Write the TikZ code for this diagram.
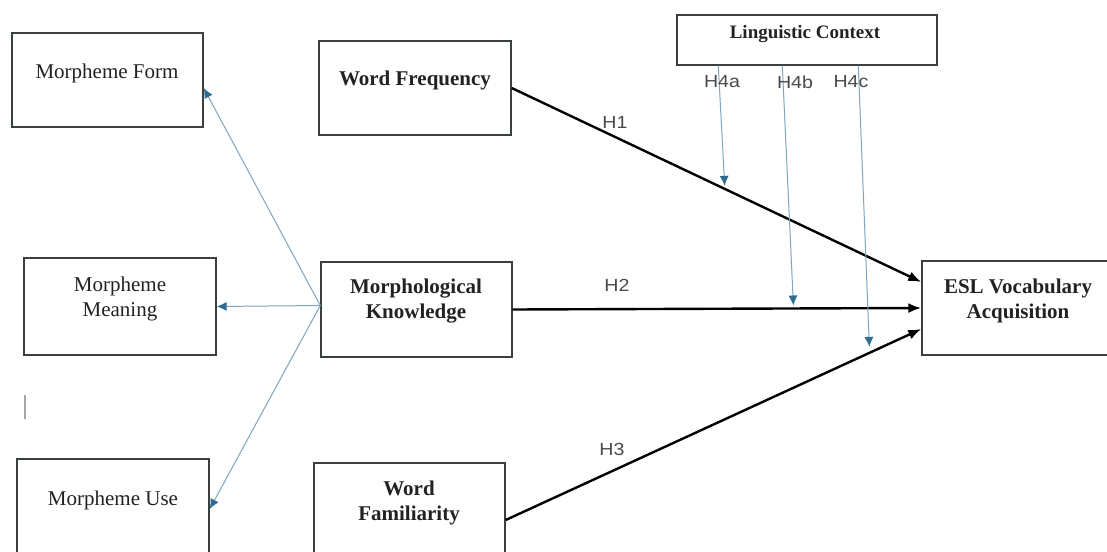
\documentclass[tikz,border=0pt]{standalone}
\usepackage{fontspec}
\setmainfont{Liberation Serif}
\newfontfamily\hfont{Liberation Sans}
\usetikzlibrary{arrows.meta,calc}
\definecolor{boxline}{HTML}{3A3F42}
\definecolor{modline}{HTML}{7FA5BF}
\definecolor{modtip}{HTML}{2E6C93}
\definecolor{txt}{HTML}{222222}
\definecolor{hlab}{HTML}{4A4A4A}
\tikzset{
  box/.style={draw=boxline, line width=1.4pt, rectangle, inner sep=0pt},
  lab/.style={font=\fontsize{21}{25}\selectfont, text=txt, align=center, inner sep=0pt},
  blab/.style={font=\fontsize{21}{25}\selectfont\bfseries, text=txt, align=center, inner sep=0pt},
  hl/.style={font=\hfont\fontsize{17.5}{20}\selectfont, text=hlab, inner sep=0pt},
  mainarrow/.style={line width=2.4pt, black, -{Latex[length=13pt,width=10pt]}},
  modarrow/.style={line width=1pt, modline, -{Latex[length=10pt,width=9pt,color=modtip]}},
}
\newcommand{\hstretch}[1]{\scalebox{1.12}[1]{#1}}
\begin{document}
\begin{tikzpicture}[x=1pt,y=-1pt]
\useasboundingbox[fill=white] (0,0) rectangle (1107,551);

% boxes
\node[box, minimum width=191pt, minimum height=94pt] (mf) at (107.5,80) {};
\node[lab] (mft) at (107,73) {Morpheme Form};

\node[box, minimum width=192pt, minimum height=94pt] (wf) at (415,88) {};
\node[blab] (wft) at (415,80) {Word Frequency};

\node[box, minimum width=260pt, minimum height=50pt] (lc) at (807,40) {};
\node[blab, font=\fontsize{19}{23}\selectfont\bfseries] (lct) at (805,34) {Linguistic Context};

\node[box, minimum width=192pt, minimum height=97pt] (mm) at (120,306.5) {};
\node[lab] (mmt) at (120,299) {Morpheme\\Meaning};

\node[box, minimum width=191pt, minimum height=95pt] (mk) at (416.5,309.5) {};
\node[blab] (mkt) at (416,301.5) {Morphological\\Knowledge};

\node[box, minimum width=192pt, minimum height=94pt] (esl) at (1018,308) {};
\node[blab] (eslt) at (1018,301) {ESL Vocabulary\\Acquisition};

\node[box, minimum width=192pt, minimum height=100pt] (mu) at (113,509) {};
\node[lab] (mut) at (113,500) {Morpheme Use};

\node[box, minimum width=191pt, minimum height=98pt] (wfam) at (409.5,512) {};
\node[blab] (wfamt) at (409,503) {Word\\Familiarity};

% cursor bar
\draw[gray!70, line width=1.5pt] (25,395) -- (25,419);

% morphological knowledge components
\coordinate (mkin) at ($(mk.west)+(0,-4)$);
\draw[modarrow] (mkin) -- ($(mf.east)+(0,8)$);
\draw[modarrow] (mkin) -- (mm.east);
\draw[modarrow] (mkin) -- (mu.east);

% main paths
\draw[mainarrow] (wf.east) -- coordinate[pos=0.52] (h1a) ($(esl.west)+(0,-26)$);
\draw[mainarrow] (mk.east) -- coordinate[pos=0.687] (h2b) (esl.west);
\draw[mainarrow] ($(wfam.east)+(0,8)$) -- coordinate[pos=0.875] (h3c) ($(esl.west)+(0,21)$);

% moderation
\draw[modarrow] ($(lc.south west)+(42,0)$) -- ($(h1a)+(0,-3)$);
\draw[modarrow] ($(lc.south west)+(106,0)$) -- ($(h2b)+(0,-3)$);
\draw[modarrow] ($(lc.south west)+(182,0)$) -- ($(h3c)+(0,-6)$);

% labels
\node[hl] (l1) at (615,122) {\hstretch{H1}};
\node[hl] (l2) at (617,285) {\hstretch{H2}};
\node[hl] (l3) at (612,449) {\hstretch{H3}};
\node[hl] (l4a) at (722,82) {\hstretch{H4a}};
\node[hl] (l4b) at (795,82) {\hstretch{H4b}};
\node[hl] (l4c) at (851,82) {\hstretch{H4c}};
\end{tikzpicture}
\end{document}
